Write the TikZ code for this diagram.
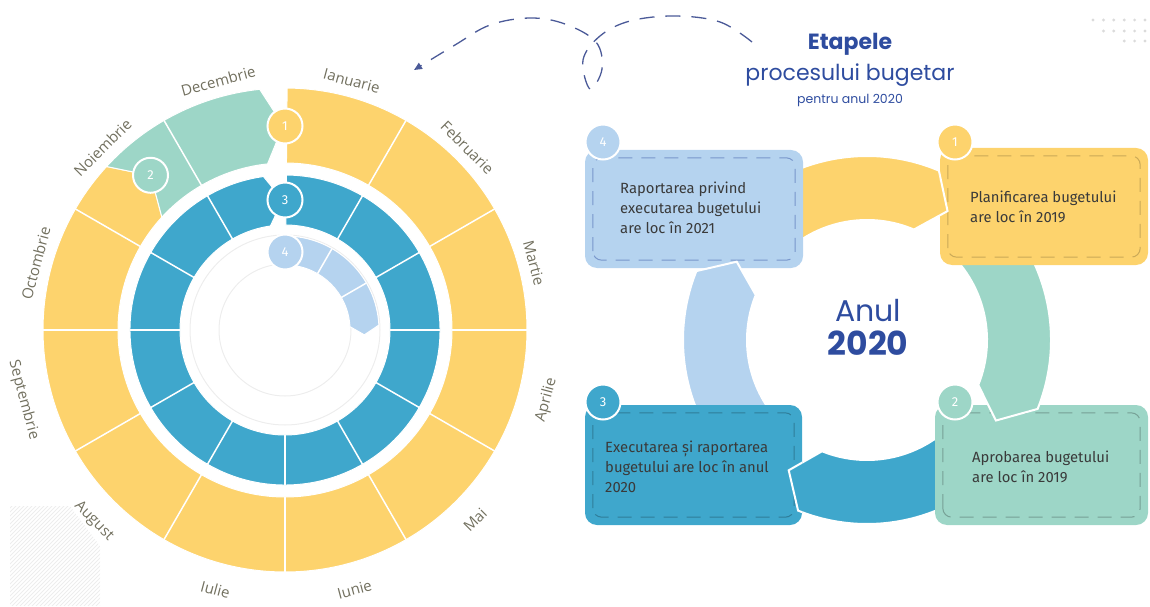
\documentclass[tikz,border=0pt]{standalone}
\usepackage{fontspec}
\setmainfont{Open Sans}
\newfontfamily\titlefont{Poppins}
\newfontfamily\boxfont{Fira Sans}
\usetikzlibrary{arrows.meta}

\definecolor{cyel}{HTML}{FDD36D}
\definecolor{cmint}{HTML}{9DD6C7}
\definecolor{cblue}{HTML}{3FA7CC}
\definecolor{clblue}{HTML}{B5D3EF}
\definecolor{cnavy}{HTML}{2E4C9F}
\definecolor{cmonth}{HTML}{72705F}
\definecolor{ctext}{HTML}{3A3A3A}
\definecolor{cdash}{HTML}{4B5A98}

% #1 fill, #2 rin, #3 rout, #4 tail angle, #5 tail point angle, #6 head corner angle, #7 tip angle, #8 options
\newcommand{\ringarrow}[8]{%
  \path[fill=#1,#8] (#4:#3) -- (#5:{(#2+#3)/2}) -- (#4:#2)
    arc[start angle=#4, end angle=#6, radius=#2] -- (#7:{(#2+#3)/2}) -- (#6:#3)
    arc[start angle=#6, end angle=#4, radius=#3] -- cycle;}

\tikzset{
  month/.style={text=cmonth, font=\fontsize{15}{16}\selectfont, inner sep=0pt},
  numc/.style={circle, draw=white, line width=2pt, minimum size=35pt, inner sep=0pt,
    text=white, font=\boxfont\fontsize{13}{13}\selectfont},
  panel/.style={rounded corners=12pt, inner sep=0pt},
  panelline/.style={dash pattern=on 14pt off 9pt, line width=1pt, rounded corners=9pt},
  boxtext/.style={anchor=west, align=left, text=ctext, inner sep=0pt,
    font=\boxfont\fontsize{14.8}{20}\selectfont},
  divider/.style={white, line width=1.5pt}
}

\begin{document}
\begin{tikzpicture}[x=1pt,y=1pt]
\useasboundingbox (0,0) rectangle (1150,606);

% ---------- decorations ----------
\begin{scope}
  \clip (10,0) -- (10,100) -- (70,100) -- (100,60) -- (100,0) -- cycle;
  \foreach \i in {-120,-116,...,100} \draw[black!7, line width=0.8pt] (\i,0) -- ++(110,110);
\end{scope}
\foreach \x in {0,...,5} \fill[black!14] (1093+10.4*\x,586) circle (1.6);
\foreach \x in {1,...,5} \fill[black!14] (1093+10.4*\x,575) circle (1.6);
\foreach \x in {3,...,5} \fill[black!14] (1093+10.4*\x,565) circle (1.6);

% ---------- left ring ----------
\begin{scope}[shift={(285,276)}]
  \draw[black!7, line width=1pt] (0,0) circle (66);
  \draw[black!7, line width=1pt] (0,0) circle (95);
  % stage 1 (yellow) and stage 2 (mint)
  \ringarrow{cyel}{167}{242}{89.5}{89.5}{-222.5}{-229}{draw=white, line width=1pt}
  \ringarrow{cmint}{167}{242}{137.5}{131}{96}{90.5}{draw=white, line width=1pt}
  \foreach \a in {60,30,0,-30,-60,-90,-120,-150,-180,150,120}
    \draw[divider] (\a:167) -- (\a:242);
  % stage 3 (blue)
  \ringarrow{cblue}{105}{155}{89.5}{89.5}{-262}{-269}{draw=white, line width=1pt}
  \foreach \a in {60,30,0,-30,-60,-90,-120,-150,-180,150,120}
    \draw[divider] (\a:105) -- (\a:155);
  % stage 4 (light blue)
  \ringarrow{clblue}{65}{94}{87}{87}{3}{-3.5}{draw=white, line width=1pt}
  \foreach \a in {60,30}
    \draw[divider] (\a:65) -- (\a:94);
  % number circles
  \node[numc, fill=cyel] (lc1) at (90:204) {1};
  \node[numc, fill=cmint] (lc2) at (131:205) {2};
  \node[numc, fill=cblue] (lc3) at (90:130) {3};
  \node[numc, fill=clblue] (lc4) at (90:78) {4};
  % months
  \foreach \a/\m [count=\i] in {75/Ianuarie,45/Februarie,15/Martie,105/Decembrie,135/Noiembrie,165/Octombrie}
    \node[month, rotate=\a-90, anchor=south] (mu\i) at (\a:252) {\m};
  \foreach \a/\m [count=\i] in {-15/Aprilie,-45/Mai,-75/Iunie,-105/Iulie,-135/August,-165/Septembrie}
    \node[month, rotate=\a+90, anchor=north] (md\i) at (\a:263) {\m};
\end{scope}

% ---------- dashed arrow ----------
\coordinate (p1) at (752,564);
\coordinate (p2) at (720,584);
\coordinate (p3) at (675,590);
\coordinate (p4) at (630,585);
\coordinate (p5) at (600,570);
\coordinate (p6) at (583,546);
\coordinate (p7) at (590,517);
\coordinate (p8) at (602,537);
\coordinate (p9) at (596,564);
\coordinate (p10) at (565,582);
\coordinate (p11) at (530,588);
\coordinate (p12) at (490,581);
\coordinate (p13) at (455,561);
\coordinate (p14) at (414,536);
\draw[cdash, line width=1.3pt, dash pattern=on 15pt off 11pt,
  -{Triangle[length=8pt,width=7pt]}]
  plot[smooth, tension=0.6] coordinates {(p1) (p2) (p3) (p4) (p5) (p6) (p7) (p8) (p9) (p10) (p11) (p12) (p13) (p14)};

% ---------- titles ----------
\node[text=cnavy, font=\titlefont\bfseries\fontsize{22}{26}\selectfont] (t1) at (850,562) {Etapele};
\node[text=cnavy, font=\titlefont\fontsize{22}{26}\selectfont] (t2) at (850,531) {procesului bugetar};
\node[text=cnavy, font=\titlefont\fontsize{12.5}{14}\selectfont] (t3) at (850,505) {pentru anul 2020};
\node[text=cnavy, font=\titlefont\fontsize{30}{34}\selectfont] (an) at (868,295) {Anul};
\node[text=cnavy, font=\titlefont\bfseries\fontsize{33}{36}\selectfont] (yr) at (868,263) {2020};

% ---------- right ring ----------
\begin{scope}[shift={(867,266)}]
  \ringarrow{cyel}{120}{184}{130}{130}{67}{58}{draw=white, line width=2pt}
  \ringarrow{cmint}{120}{184}{50}{50}{-22}{-32}{draw=white, line width=2pt}
  \ringarrow{cblue}{120}{184}{-50}{-50}{-112}{-121}{draw=white, line width=2pt}
  \ringarrow{clblue}{120}{184}{225}{225}{158}{149}{draw=white, line width=2pt}
\end{scope}

% ---------- boxes ----------
\node[panel, fill=clblue, minimum width=218pt, minimum height=118pt] (b4) at (694,397) {};
\node[panel, fill=cyel, minimum width=208pt, minimum height=117pt] (b1) at (1044,399.5) {};
\node[panel, fill=cmint, minimum width=213pt, minimum height=120pt] (b2) at (1041.5,141) {};
\node[panel, fill=cblue, minimum width=217pt, minimum height=120pt] (b3) at (693.5,141) {};
\draw[panelline, draw=clblue!55!cnavy] ([shift={(8,8)}]b4.south west) rectangle ([shift={(-8,-8)}]b4.north east);
\draw[panelline, draw=cyel!80!black] ([shift={(8,8)}]b1.south west) rectangle ([shift={(-8,-8)}]b1.north east);
\draw[panelline, draw=cmint!75!black] ([shift={(8,8)}]b2.south west) rectangle ([shift={(-8,-8)}]b2.north east);
\draw[panelline, draw=cblue!75!black] ([shift={(8,8)}]b3.south west) rectangle ([shift={(-8,-8)}]b3.north east);

% arrow heads over the boxes
\begin{scope}[shift={(867,266)}]
  \begin{scope}
    \clip (b1.south west) rectangle (b1.north east);
    \ringarrow{cyel}{120}{184}{130}{130}{67}{58}{draw=white, line width=2pt}
  \end{scope}
  \begin{scope}
    \clip (b2.south west) rectangle (b2.north east);
    \ringarrow{cmint}{120}{184}{50}{50}{-22}{-32}{draw=white, line width=2pt}
  \end{scope}
  \begin{scope}
    \clip (b3.south west) rectangle (b3.north east);
    \ringarrow{cblue}{120}{184}{-50}{-50}{-112}{-121}{draw=white, line width=2pt}
  \end{scope}
  \begin{scope}
    \clip (b4.south west) rectangle (b4.north east);
    \ringarrow{clblue}{120}{184}{225}{225}{158}{149}{draw=white, line width=2pt}
  \end{scope}
\end{scope}

\node[numc, fill=clblue] (n4) at (603,464) {4};
\node[numc, fill=cyel] (n1) at (955,464) {1};
\node[numc, fill=cmint] (n2) at (955,204) {2};
\node[numc, fill=cblue] (n3) at (603,204) {3};

\node[boxtext] (x4) at (620,398) {Raportarea privind\\executarea bugetului\\are loc în 2021};
\node[boxtext] (x1) at (970,399) {Planificarea bugetului\\are loc în 2019};
\node[boxtext] (x2) at (972,139) {Aprobarea bugetului\\are loc în 2019};
\node[boxtext] (x3) at (605,139) {Executarea și raportarea\\bugetului are loc în anul\\2020};
\end{tikzpicture}
\end{document}
